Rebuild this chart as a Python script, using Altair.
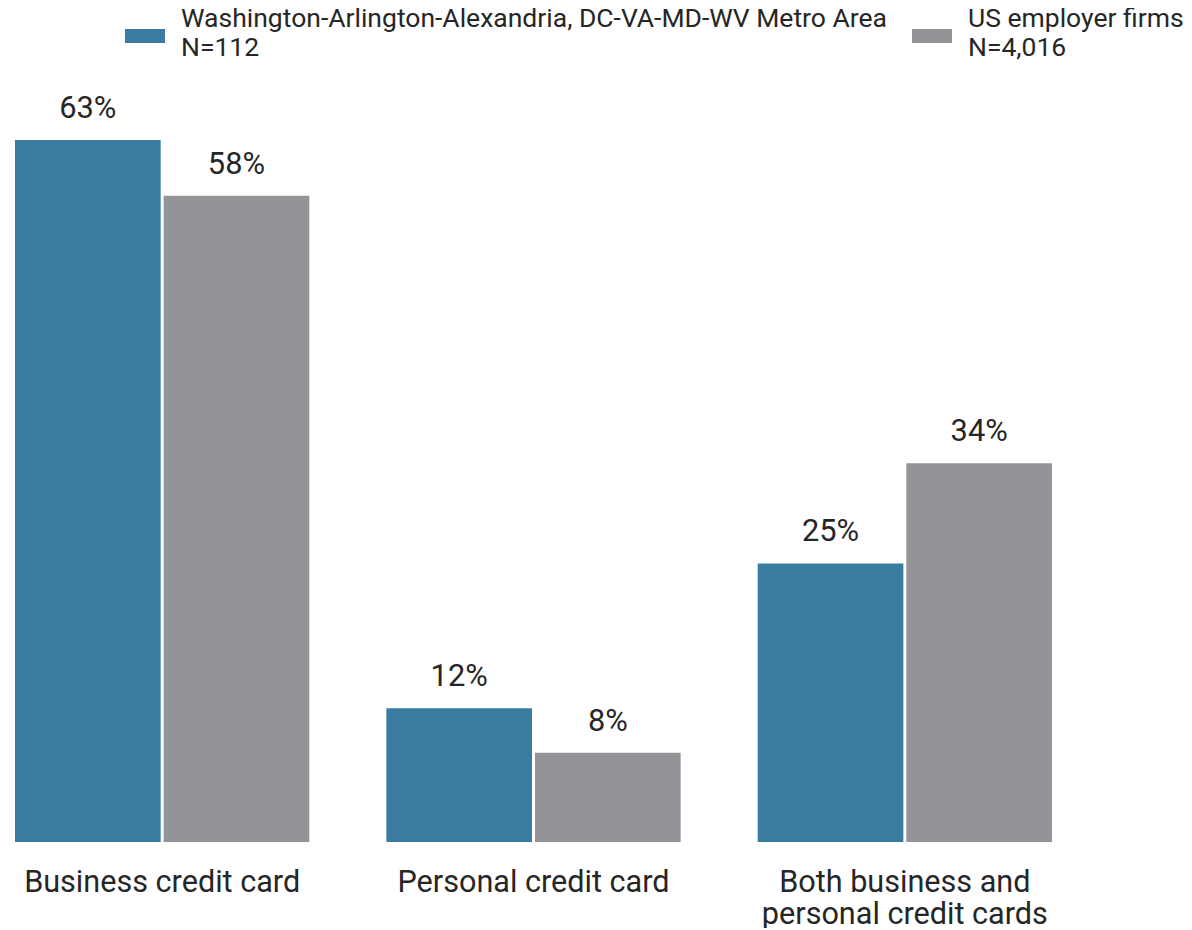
import altair as alt
import pandas as pd

categories = ["Business credit card", "Personal credit card", "Both business and|personal credit cards"]
series = ["Washington-Arlington-Alexandria, DC-VA-MD-WV Metro Area|N=112", "US employer firms|N=4,016"]
metro_values = [63, 12, 25]
us_values = [58, 8, 34]
colors = ["#3a7ca0", "#939498"]

rows = []
for c, a, b in zip(categories, metro_values, us_values):
    rows.append({"category": c, "series": series[0], "value": a, "label": f"{a}%"})
    rows.append({"category": c, "series": series[1], "value": b, "label": f"{b}%"})
df = pd.DataFrame(rows)

FONT = "Roboto"
TXT = "#262626"

x = alt.X("category:N", sort=categories, title=None,
          scale=alt.Scale(paddingInner=0.2075, paddingOuter=0),
          axis=alt.Axis(labelAngle=0, domain=False, ticks=False, labelFontSize=30.6,
                        labelFont=FONT, labelColor=TXT, labelPadding=25,
                        labelLimit=1000, labelLineHeight=32, labelBaseline="top",
                        labelExpr="split(datum.label, '|')"))
y = alt.Y("value:Q", scale=alt.Scale(domain=[0, 70], nice=False), axis=None)
xo = alt.XOffset("series:N", sort=series, scale=alt.Scale(paddingInner=0.02))

bars = alt.Chart(df).mark_bar().encode(
    x=x, y=y, xOffset=xo,
    color=alt.Color("series:N", sort=series,
                    scale=alt.Scale(domain=series, range=colors),
                    legend=alt.Legend(title=None, orient="none", direction="horizontal",
                                      legendX=110, legendY=-63,
                                      symbolType="M-1,0.5L1,0.5L1,1.2L-1,1.2Z",
                                      symbolSize=1600, symbolStrokeWidth=0,
                                      labelFontSize=26.5, labelFont=FONT, labelColor=TXT,
                                      labelLimit=1000, labelOffset=16, columnPadding=25,
                                      labelExpr="split(datum.label, '|')"))
)

texts = alt.Chart(df).mark_text(baseline="alphabetic", dy=-22, fontSize=30.8, font=FONT,
                                color=TXT).encode(
    x=x, y=y, xOffset=xo, text="label:N"
)

chart = (bars + texts).properties(
    width=1037, height=780,
    autosize=alt.AutoSizeParams(type="none"),
    padding={"left": 7, "top": 54, "right": 132, "bottom": 86}
).configure_view(stroke=None)

chart.save("out.html", embed_options={"renderer": "svg", "actions": False})
